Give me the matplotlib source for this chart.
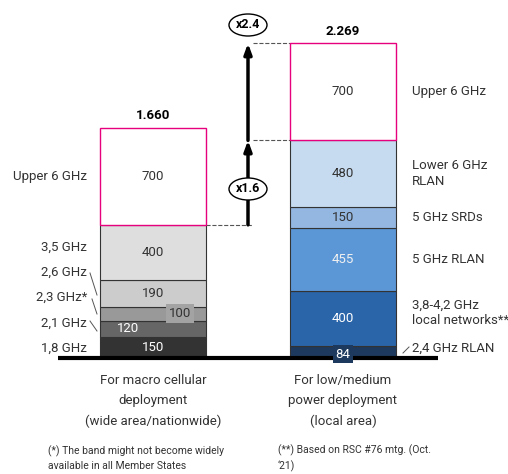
import matplotlib.pyplot as plt
import matplotlib.patches as patches

# spectrum in MHz, bottom to top
macro_bands = ['1,8 GHz', '2,1 GHz', '2,3 GHz*', '2,6 GHz', '3,5 GHz', 'Upper 6 GHz']
macro_mhz = [150, 120, 100, 190, 400, 700]
macro_colors = ['#333333', '#666666', '#999999', '#cccccc', '#dedede', 'white']

local_bands = ['2,4 GHz RLAN', '3,8-4,2 GHz\nlocal networks**', '5 GHz RLAN',
               '5 GHz SRDs', 'Lower 6 GHz\nRLAN', 'Upper 6 GHz']
local_mhz = [84, 400, 455, 150, 480, 700]
local_colors = ['#1d3a5e', '#2a65aa', '#5b97d7', '#93b7e1', '#c6dbf0', 'white']

categories = ['For macro cellular\ndeployment\n(wide area/nationwide)',
              'For low/medium\npower deployment\n(local area)']
footnotes = ['(*) The band might not become widely\navailable in all Member States',
             '(**) Based on RSC #76 mtg. (Oct.\n\u201821)']

PINK = '#e6007e'
plt.rcParams['font.family'] = ['Roboto', 'DejaVu Sans']

fig = plt.figure(figsize=(5.08, 4.74), dpi=100)
ax = fig.add_axes([0, 0, 1, 1])
ax.set_xlim(0, 508)
K = 0.1387  # px per MHz
BASE = 358
ax.set_ylim((BASE - 474) / K, BASE / K)
ax.axis('off')


def v(py):
    # pixel row -> data value
    return (BASE - py) / K


def stack(xc, vals, colors):
    bottom = 0
    mids = []
    for i, (val, col) in enumerate(zip(vals, colors)):
        last = i == len(vals) - 1
        ax.bar(xc, val, width=106, bottom=bottom, color=col,
               edgecolor=PINK if last else '#333333', linewidth=1.0 if last else 0.8,
               zorder=3 if last else 2)
        mids.append(bottom + val / 2)
        bottom += val
    return mids, bottom


xl, xr = 153, 343
mids_l, tot_l = stack(xl, macro_mhz, macro_colors)
mids_r, tot_r = stack(xr, local_mhz, local_colors)

fs = 9.5
# values in left bar
txt_l = ['white', 'white', '#333333', '#333333', '#333333', '#333333']
for i, (m, val) in enumerate(zip(mids_l, macro_mhz)):
    x = xl
    box = None
    if i == 1:
        x = 128
    if i == 2:
        x = 180
        box = dict(boxstyle='square,pad=0.2', fc='#a3a3a3', ec='none')
    ax.text(x, m, str(val), ha='center', va='center', fontsize=fs, color=txt_l[i],
            bbox=box, zorder=5)

txt_r = ['white', 'white', '#f0f0f0', '#333333', '#333333', '#333333']
for i, (m, val) in enumerate(zip(mids_r, local_mhz)):
    y = m
    box = None
    if i == 0:
        y = v(354)
        box = dict(boxstyle='square,pad=0.2', fc=local_colors[0], ec='none')
    ax.text(xr, y, str(val), ha='center', va='center', fontsize=fs, color=txt_r[i],
            bbox=box, zorder=6)

# totals
ax.text(xl, tot_l + v(358 - 12), f'{tot_l:,}'.replace(',', '.'), ha='center',
        va='center', fontsize=fs, fontweight='bold')
ax.text(xr, tot_r + v(358 - 12), f'{tot_r:,}'.replace(',', '.'), ha='center',
        va='center', fontsize=fs, fontweight='bold')

# left band labels
lab_y = [348, 323, 297, 272, 247]
for name, py in zip(macro_bands[:5], lab_y):
    ax.text(87, v(py), name, ha='right', va='center', fontsize=fs, color='#333333')
ax.text(87, mids_l[5], macro_bands[5], ha='right', va='center', fontsize=fs, color='#333333')
for (x0, y0, x1, y1) in [(90, 273, 97, 295), (92, 299, 97, 314), (90, 321, 97, 331)]:
    ax.plot([x0, x1], [v(y0), v(y1)], color='#555555', lw=0.7)

# right band labels
for i, (name, m) in enumerate(zip(local_bands, mids_r)):
    y = m
    if i == 0:
        y = v(348)
    if i == 1:
        y = v(313)
    ax.text(412, y, name, ha='left', va='center', fontsize=fs, color='#333333',
            linespacing=1.3)
ax.plot([403, 409], [v(353), v(347)], color='#555555', lw=0.7)

# baseline
ax.plot([58, 438], [0, 0], color='black', lw=3, zorder=4, solid_capstyle='butt')

# growth arrows
base_l = sum(macro_mhz[:-1])
mid_r = sum(local_mhz[:-1])
xa = 248
ax.plot([206, 253], [base_l, base_l], ls='--', color='#555555', lw=0.8)
ax.plot([253, 290], [mid_r, mid_r], ls='--', color='#555555', lw=0.8)
ax.plot([253, 290], [tot_r, tot_r], ls='--', color='#555555', lw=0.8)
for y0, y1 in [(base_l, mid_r), (mid_r, tot_r)]:
    ax.annotate('', xy=(xa, y1), xytext=(xa, y0),
                arrowprops=dict(arrowstyle='-|>,head_length=0.6,head_width=0.22',
                                color='black', lw=2.5, shrinkA=0, shrinkB=0))
for ratio, py in [(mid_r / base_l, 189), (tot_r / base_l, 25)]:
    ax.add_patch(patches.Ellipse((xa, v(py)), 38, 22 / K, fc='white', ec='black',
                                 lw=1, zorder=6))
    ax.text(xa, v(py), f'x{ratio:.1f}', ha='center', va='center', fontsize=9,
            fontweight='bold', zorder=7)

# categories and footnotes
for x, c in zip([xl, xr], categories):
    ax.text(x, v(401), c, ha='center', va='center', fontsize=fs, color='#333333',
            linespacing=1.7)
ax.text(48, v(458), footnotes[0], ha='left', va='center', fontsize=7.5, color='#333333',
        linespacing=1.45)
ax.text(278, v(458), footnotes[1], ha='left', va='center', fontsize=7.5, color='#333333',
        linespacing=1.45)

fig.savefig('out.png', dpi=100)
